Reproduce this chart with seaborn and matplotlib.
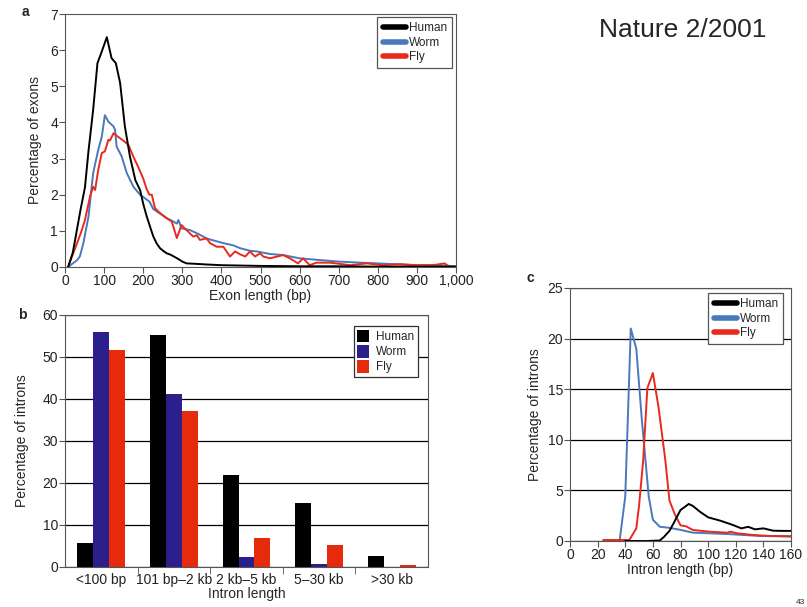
import matplotlib
matplotlib.use("Agg")
import matplotlib.pyplot as plt
from matplotlib.lines import Line2D
from matplotlib.patches import Patch
import seaborn as sns
import pandas as pd

# ---- panel a: exon length distribution ----
exon_human_x = [8, 20, 30, 40, 51, 60, 72, 83, 94, 107, 119, 130, 141, 153, 166,
                180, 192, 200, 209, 218, 226, 234, 243, 252, 260, 270, 280, 290,
                300, 311, 330, 362, 400, 450, 500, 600, 700, 800, 900, 1000]
exon_human_y = [0, 0.4, 1.0, 1.6, 2.2, 3.2, 4.35, 5.64, 5.96, 6.36, 5.78, 5.64,
                5.09, 3.9, 3.06, 2.4, 2.13, 1.75, 1.4, 1.1, 0.84, 0.66, 0.52,
                0.44, 0.38, 0.34, 0.28, 0.22, 0.15, 0.1, 0.09, 0.07, 0.05, 0.04,
                0.03, 0.02, 0.02, 0.01, 0.01, 0.01]

exon_worm_x = [8, 20, 30, 38, 47, 60, 72, 85, 94, 102, 111, 124, 128, 132, 145,
               158, 175, 192, 216, 226, 243, 260, 275, 286, 290, 298, 320, 340,
               362, 385, 405, 430, 448, 473, 491, 524, 558, 600, 643, 700, 755,
               800, 856, 898, 940, 984, 1000]
exon_worm_y = [0, 0.1, 0.18, 0.29, 0.66, 1.39, 2.6, 3.24, 3.6, 4.2, 4.02, 3.89,
               3.8, 3.33, 3.06, 2.6, 2.22, 2.0, 1.81, 1.6, 1.48, 1.35, 1.27, 1.2,
               1.3, 1.07, 1.02, 0.92, 0.79, 0.72, 0.66, 0.6, 0.52, 0.45, 0.43,
               0.36, 0.33, 0.24, 0.2, 0.15, 0.12, 0.1, 0.07, 0.05, 0.05, 0.03, 0.02]

exon_fly_x = [8, 21, 34, 43, 51, 64, 72, 77, 85, 94, 102, 111, 115, 124, 136,
              149, 162, 175, 188, 200, 209, 216, 222, 230, 243, 260, 273, 286,
              298, 311, 328, 337, 345, 362, 371, 388, 405, 422, 435, 448, 461,
              473, 486, 499, 507, 524, 558, 575, 596, 609, 626, 643, 678, 730,
              772, 813, 856, 898, 941, 971, 984, 1000]
exon_fly_y = [0, 0.38, 0.75, 1.02, 1.3, 1.95, 2.22, 2.13, 2.69, 3.15, 3.2, 3.52,
              3.5, 3.7, 3.6, 3.5, 3.38, 3.05, 2.75, 2.45, 2.15, 2.0, 2.0, 1.63,
              1.49, 1.35, 1.26, 0.8, 1.16, 1.02, 0.84, 0.88, 0.75, 0.79, 0.66,
              0.56, 0.56, 0.29, 0.43, 0.35, 0.29, 0.43, 0.29, 0.38, 0.29, 0.24,
              0.33, 0.24, 0.1, 0.24, 0.05, 0.12, 0.12, 0.05, 0.1, 0.05, 0.08,
              0.05, 0.05, 0.1, 0.0, 0.0]

# ---- panel b: intron length classes ----
intron_classes = ["<100 bp", "101 bp\u20132 kb", "2 kb\u20135 kb", "5\u201330 kb", ">30 kb"]
intron_human = [5.7, 55.3, 21.9, 15.2, 2.7]
intron_worm = [55.9, 41.3, 2.3, 0.8, 0.0]
intron_fly = [51.6, 37.2, 6.9, 5.3, 0.55]

# ---- panel c: short intron length distribution ----
short_human_x = [40, 56, 65, 68, 72, 75, 80, 86, 89, 94, 100, 109, 118, 124, 129,
                 134, 140, 147, 153, 160]
short_human_y = [0, 0, 0.05, 0.4, 1.0, 1.75, 3.06, 3.66, 3.46, 2.9, 2.34, 2.0,
                 1.58, 1.25, 1.4, 1.15, 1.25, 1.02, 1.0, 1.0]

short_worm_x = [36, 40, 42, 44, 48, 52, 57, 60, 65, 72, 80, 89, 101, 114, 126,
                138, 150, 160]
short_worm_y = [0.1, 4.4, 12.6, 21.0, 19.0, 12.0, 4.4, 2.1, 1.41, 1.3, 1.1,
                0.82, 0.76, 0.69, 0.59, 0.49, 0.49, 0.49]

short_fly_x = [24, 43, 48, 50, 53, 56, 60, 64, 69, 72, 76, 80, 84, 89, 101, 114,
               116, 121, 133, 145, 160]
short_fly_y = [0.1, 0.1, 1.25, 3.5, 8.0, 15.1, 16.6, 13.3, 8.0, 4.0, 2.6, 1.55,
               1.45, 1.09, 0.92, 0.82, 0.92, 0.76, 0.59, 0.49, 0.43]

species = ["Human", "Worm", "Fly"]
line_colors = {"Human": "#000000", "Worm": "#4a78bd", "Fly": "#e82a1c"}
bar_colors = {"Human": "#000000", "Worm": "#2b1f8c", "Fly": "#e52b0c"}


def long_df(pairs, xname, yname):
    frames = []
    for name, (xs, ys) in zip(species, pairs):
        frames.append(pd.DataFrame({xname: xs, yname: ys, "Species": name}))
    return pd.concat(frames, ignore_index=True)


sns.set_style("ticks")
plt.rcParams["font.family"] = ["Liberation Sans", "DejaVu Sans"]
plt.rcParams["axes.edgecolor"] = "#555555"
plt.rcParams["xtick.color"] = "#555555"
plt.rcParams["ytick.color"] = "#555555"
plt.rcParams["xtick.labelcolor"] = "#222222"
plt.rcParams["ytick.labelcolor"] = "#222222"

fig = plt.figure(figsize=(8.07, 6.07), dpi=100)
W, H = 807, 607


def px_axes(x0, y0, x1, y1):
    return fig.add_axes([x0 / W, 1 - y1 / H, (x1 - x0) / W, (y1 - y0) / H])


def line_legend(ax, anchor):
    handles = [Line2D([0], [0], color=line_colors[s], lw=4) for s in species]
    leg = ax.legend(handles, species, loc="upper right", bbox_to_anchor=anchor,
                    borderaxespad=0, fontsize=8.5, handlelength=2.0,
                    handletextpad=0.2, labelspacing=0.2, borderpad=0.45,
                    fancybox=False, framealpha=1, edgecolor="#555555")
    leg.get_frame().set_linewidth(0.9)


tick_fs = 10

# panel a
ax_a = px_axes(65, 14, 456, 267)
df_a = long_df([(exon_human_x, exon_human_y), (exon_worm_x, exon_worm_y),
                (exon_fly_x, exon_fly_y)], "Exon", "Pct")
sns.lineplot(data=df_a, x="Exon", y="Pct", hue="Species", palette=line_colors,
             hue_order=["Worm", "Fly", "Human"], lw=1.4, ax=ax_a, legend=False,
             sort=False)
ax_a.set_xlim(0, 1000)
ax_a.set_ylim(0, 7)
ax_a.set_xticks(range(0, 1001, 100))
ax_a.set_xticklabels([str(v) if v < 1000 else "1,000" for v in range(0, 1001, 100)])
ax_a.set_yticks(range(0, 8))
ax_a.set_xlabel("Exon length (bp)", fontsize=tick_fs, labelpad=1)
ax_a.set_ylabel("Percentage of exons", fontsize=tick_fs, labelpad=6)
ax_a.tick_params(labelsize=tick_fs, length=4, pad=1)
line_legend(ax_a, (0.99, 0.988))

# panel b
ax_b = px_axes(65, 315, 428, 567)
df_b = pd.DataFrame({
    "Class": intron_classes * 3,
    "Pct": intron_human + intron_worm + intron_fly,
    "Species": ["Human"] * 5 + ["Worm"] * 5 + ["Fly"] * 5,
})
ax_b.set_axisbelow(True)
ax_b.yaxis.grid(True, color="#000000", lw=0.9)
sns.barplot(data=df_b, x="Class", y="Pct", hue="Species", palette=bar_colors,
            order=intron_classes, hue_order=species, width=0.66, gap=0,
            saturation=1, linewidth=0, ax=ax_b, legend=False)
ax_b.set_xlim(-0.5, 4.5)
ax_b.set_ylim(0, 60)
ax_b.set_yticks(range(0, 61, 10))
ax_b.set_xticks([0.5, 1.5, 2.5, 3.5], minor=True)
ax_b.tick_params(axis="x", which="major", length=0, labelsize=tick_fs, pad=4)
ax_b.tick_params(axis="x", which="minor", length=5)
ax_b.tick_params(axis="y", labelsize=tick_fs, length=4, pad=1)
ax_b.set_xlabel("Intron length", fontsize=tick_fs, labelpad=0)
ax_b.set_ylabel("Percentage of introns", fontsize=tick_fs, labelpad=10)
patches = [Patch(facecolor=bar_colors[s], edgecolor="none") for s in species]
leg_b = ax_b.legend(patches, species, loc="upper right", bbox_to_anchor=(0.972, 0.956),
                    borderaxespad=0, fontsize=8.5, handlelength=1.0, handleheight=1.3,
                    handletextpad=0.6, labelspacing=0.15, borderpad=0.3,
                    fancybox=False, framealpha=1, edgecolor="#333333")
leg_b.get_frame().set_linewidth(0.9)

# panel c
ax_c = px_axes(570, 288, 791, 541)
ax_c.set_axisbelow(True)
ax_c.yaxis.grid(True, color="#000000", lw=0.9)
df_c = long_df([(short_human_x, short_human_y), (short_worm_x, short_worm_y),
                (short_fly_x, short_fly_y)], "Intron", "Pct")
sns.lineplot(data=df_c, x="Intron", y="Pct", hue="Species", palette=line_colors,
             hue_order=["Worm", "Fly", "Human"], lw=1.4, ax=ax_c, legend=False,
             sort=False)
ax_c.set_xlim(0, 160)
ax_c.set_ylim(0, 25)
ax_c.set_xticks(range(0, 161, 20))
ax_c.set_yticks(range(0, 26, 5))
ax_c.tick_params(labelsize=tick_fs, length=4, pad=1)
ax_c.set_xlabel("Intron length (bp)", fontsize=tick_fs, labelpad=1)
ax_c.set_ylabel("Percentage of introns", fontsize=tick_fs, labelpad=4)
line_legend(ax_c, (0.964, 0.98))

# panel letters and header
fig.text(25 / W, 1 - 12 / H, "a", fontsize=10, fontweight="bold", ha="center", va="center")
fig.text(22 / W, 1 - 315 / H, "b", fontsize=10, fontweight="bold", ha="center", va="center")
fig.text(530 / W, 1 - 278 / H, "c", fontsize=10, fontweight="bold", ha="center", va="center")
fig.text(683 / W, 1 - 30 / H, "Nature 2/2001", fontsize=19, ha="center", va="center")
fig.text(805 / W, 1 - 606 / H, "43", fontsize=6, ha="right", va="bottom")

fig.savefig("out.png", dpi=100)
